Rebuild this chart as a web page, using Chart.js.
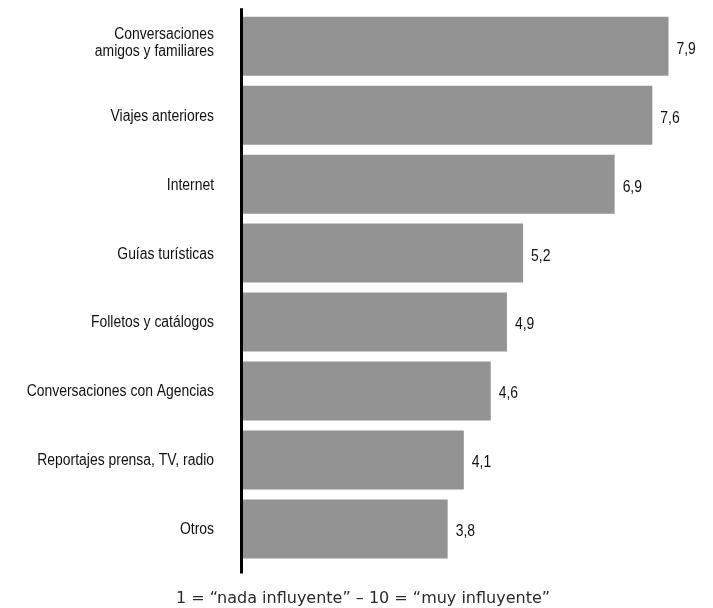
<!DOCTYPE html>
<html>
<head>
<meta charset="utf-8">
<script src="https://cdn.jsdelivr.net/npm/chart.js@4/dist/chart.umd.min.js"></script>
<style>
  html, body { margin: 0; padding: 0; background: #fff; }
  #wrap { width: 713px; height: 608px; }
</style>
</head>
<body>
<div id="wrap"><canvas id="c" width="713" height="608"></canvas></div>
<script>
const categories = [
  ['Conversaciones', 'amigos y familiares'],
  'Viajes anteriores',
  'Internet',
  'Guías turísticas',
  'Folletos y catálogos',
  'Conversaciones con Agencias',
  'Reportajes prensa, TV, radio',
  'Otros'
];
const values = [7.9, 7.6, 6.9, 5.2, 4.9, 4.6, 4.1, 3.8];
const valueLabels = ['7,9', '7,6', '6,9', '5,2', '4,9', '4,6', '4,1', '3,8'];
const footnote = '1 = \u201cnada influyente\u201d \u2013 10 = \u201cmuy influyente\u201d';

const BASEFONT = "'Liberation Sans', Arial, sans-serif";
const SQUEEZE = 0.87;   // emulate a condensed face

const decor = {
  id: 'decor',
  afterDatasetsDraw(chart) {
    const { ctx, chartArea } = chart;
    const yScale = chart.scales.y;
    const meta = chart.getDatasetMeta(0);
    ctx.save();
    ctx.fillStyle = '#111';
    ctx.font = '16px ' + BASEFONT;
    ctx.textBaseline = 'middle';

    // category labels (right aligned, condensed)
    ctx.textAlign = 'right';
    categories.forEach((lab, i) => {
      const lines = Array.isArray(lab) ? lab : [lab];
      const y = yScale.getPixelForTick(i);
      const lh = 16.7;
      const start = y + 1 - (lines.length - 1) * lh / 2 - (lines.length - 1) * 4;
      lines.forEach((t, k) => {
        ctx.save();
        ctx.translate(214, start + k * lh);
        ctx.scale(SQUEEZE, 1);
        ctx.fillText(t, 0, 0);
        ctx.restore();
      });
    });

    // value labels
    ctx.textAlign = 'left';
    meta.data.forEach((bar, i) => {
      ctx.save();
      ctx.translate(bar.x + 8, bar.y + 3);
      ctx.scale(SQUEEZE, 1);
      ctx.fillText(valueLabels[i], 0, 0);
      ctx.restore();
    });

    // vertical axis line
    ctx.strokeStyle = '#000';
    ctx.lineWidth = 3;
    ctx.beginPath();
    ctx.moveTo(chartArea.left - 1.5, chartArea.top - 3.5);
    ctx.lineTo(chartArea.left - 1.5, chartArea.bottom + 10);
    ctx.stroke();
    ctx.restore();
  }
};

new Chart(document.getElementById('c'), {
  type: 'bar',
  data: {
    labels: categories,
    datasets: [{
      data: values,
      backgroundColor: '#939393',
      borderWidth: 0,
      barPercentage: 0.856,
      categoryPercentage: 1.0
    }]
  },
  options: {
    indexAxis: 'y',
    responsive: false,
    animation: false,
    devicePixelRatio: 1,
    layout: { padding: { top: 11.75, right: 12.2, bottom: 0, left: 25.2 } },
    plugins: {
      legend: { display: false },
      tooltip: { enabled: false },
      title: {
        display: true,
        position: 'bottom',
        text: footnote,
        color: '#2a2a2a',
        font: { family: "'DejaVu Sans', sans-serif", size: 16, weight: 'normal', lineHeight: 1.2 },
        padding: { top: 25.4, bottom: 0 }
      }
    },
    scales: {
      x: {
        display: false,
        min: 0,
        max: 8.5
      },
      y: {
        grid: { display: false, drawTicks: false },
        border: { display: false },
        ticks: { display: false, autoSkip: false },
        afterFit(scale) {
          scale.width = 217.8;
          scale.paddingTop = 0;
          scale.paddingBottom = 0;
        }
      }
    }
  },
  plugins: [decor]
});
</script>
</body>
</html>
